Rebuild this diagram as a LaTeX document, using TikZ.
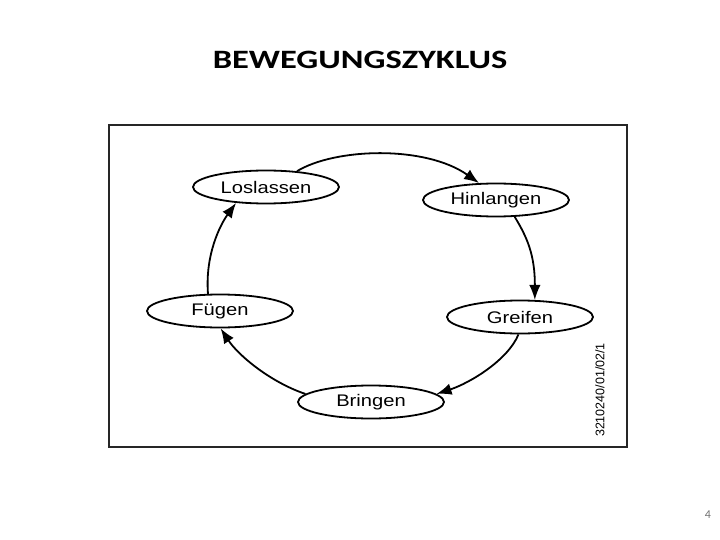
\documentclass[tikz,border=0pt]{standalone}
\usepackage{fontspec}
\usepackage{tikz}
\usetikzlibrary{arrows.meta,shapes.geometric}
\setmainfont{Carlito}
\newfontfamily\titlefont[FakeStretch=1.3]{Carlito}
\newfontfamily\phasefont[FakeStretch=1.2]{Liberation Sans}
\newfontfamily\codefont{Liberation Sans}

\begin{document}
\begin{tikzpicture}[
  x=1pt, y=-1pt,
  phase/.style={
    ellipse,
    draw=black,
    line width=1.8pt,
    fill=white,
    inner sep=0pt,
    minimum width=146pt,
    minimum height=33pt,
    font=\phasefont\fontsize{16.8}{19}\selectfont
  },
  arrow/.style={-{Latex[length=15pt,width=11.5pt]}, line width=1.8pt, draw=black}
]
\useasboundingbox (0,0) rectangle (720,540);

% Titre et cadre
\node[font=\titlefont\bfseries\fontsize{26.5}{30}\selectfont] (title) at (360,60) {BEWEGUNGSZYKLUS};
\draw[black!85, line width=2.2pt] (109,125) rectangle (627,447);

% Phases du cycle
\node[phase] (los) at (266,187) {Loslassen};
\node[phase] (hin) at (496,200) {Hinlangen};
\node[phase] (gre) at (520,317) {Greifen};
\node[phase] (bri) at (371,402) {Bringen};
\node[phase] (fue) at (220,311) {Fügen};

% Flèches
\draw[arrow] (los.27) .. controls (335,148) and (425,145) .. (hin.135);
\draw[arrow] (hin.-42) .. controls (527,237) and (535,255) .. (gre.49);
\draw[arrow] (gre.-95) .. controls (508,360) and (470,383) .. (bri.7);
\draw[arrow] (bri.173) .. controls (270,382) and (238,355) .. (fue.-88);
\draw[arrow] (fue.125) .. controls (205,255) and (220,225) .. (los.208);

% Référence et numéro de page
\node[rotate=90, font=\codefont\fontsize{12.5}{14}\selectfont] (code) at (600,390) {3210240/01/02/1};
\node[text=black!55, font=\fontsize{12}{14}\selectfont] (page) at (708,515) {4};
\end{tikzpicture}
\end{document}
